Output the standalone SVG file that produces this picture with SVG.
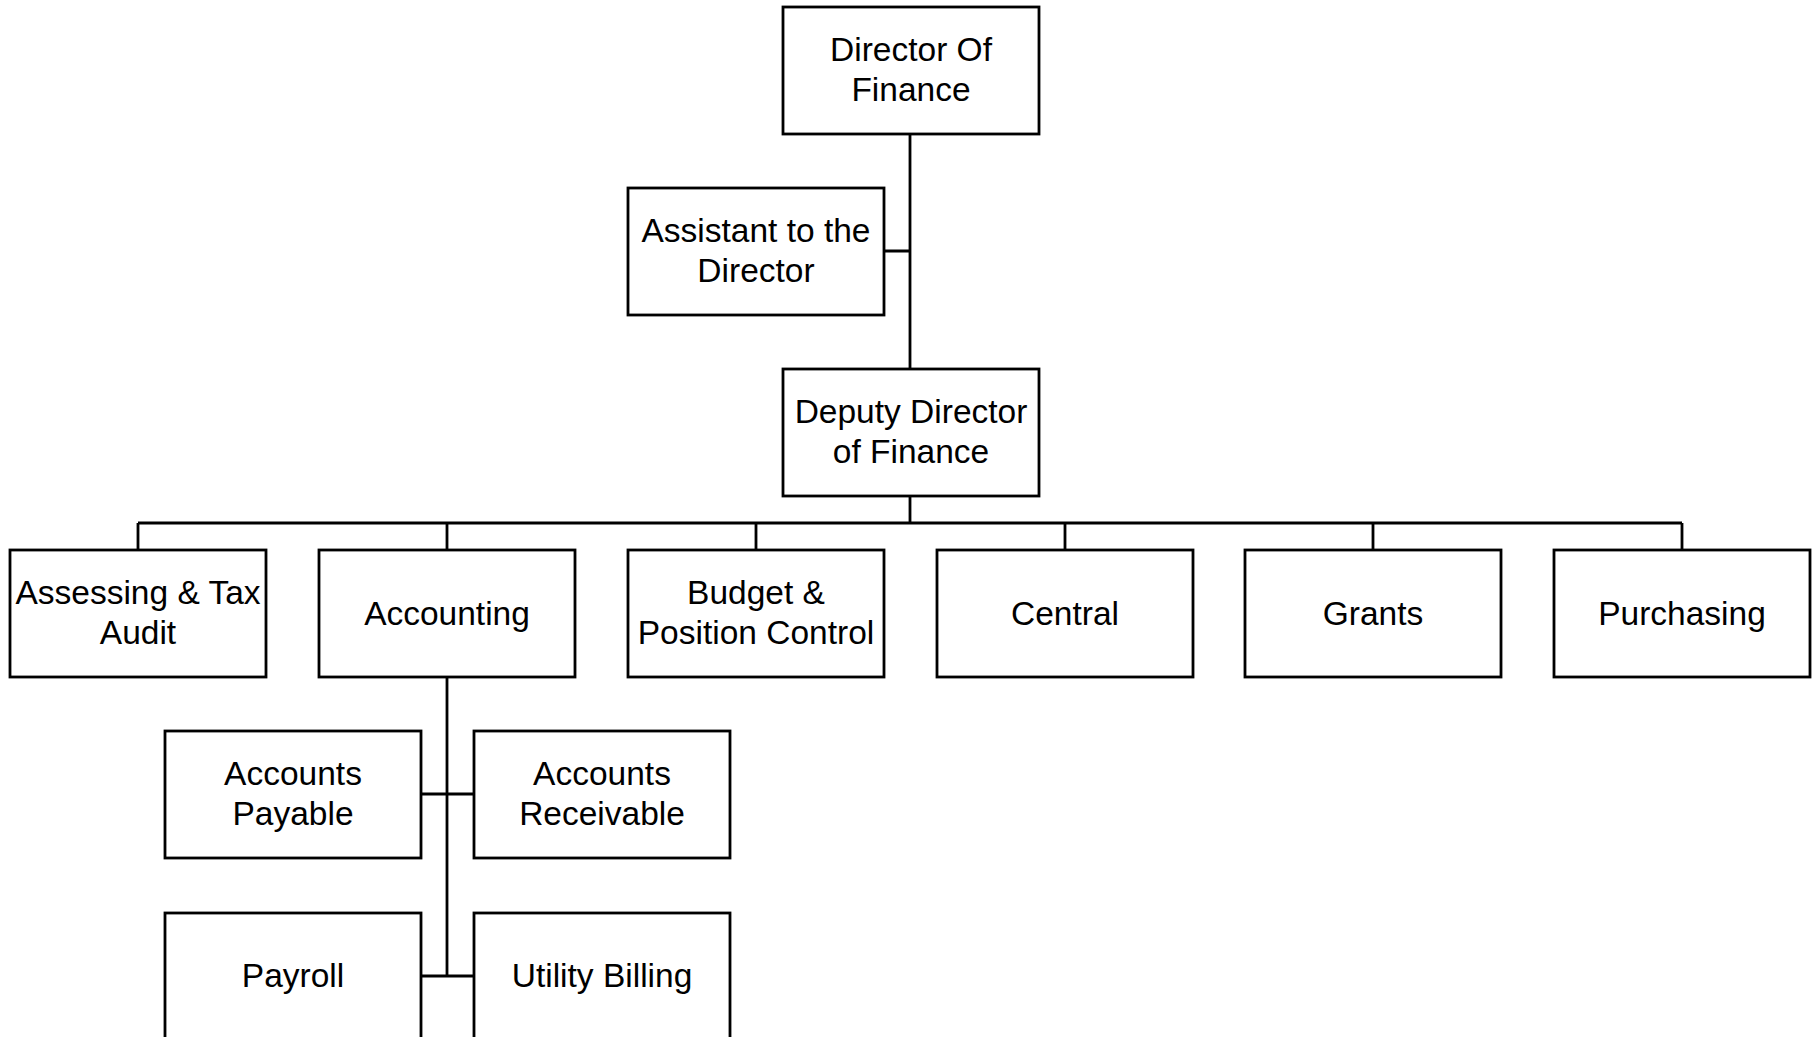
<svg xmlns="http://www.w3.org/2000/svg" width="1813" height="1037" viewBox="0 0 1813 1037">
<style>
.box{fill:#fff;stroke:#000;stroke-width:2.8}
.ln{fill:none;stroke:#000;stroke-width:2.8}
text{font-family:"Liberation Sans",Arial,sans-serif;font-size:33.5px;fill:#000;text-anchor:middle}
</style>
<rect width="1813" height="1037" fill="#fff"/>
<g id="connectors">
<path class="ln" d="M910 134V369M884 251H910M910 496V523M138 523H1682M138 523V550M447 523V550M756 523V550M1065 523V550M1373 523V550M1682 523V550M447 677V976M421 794H474M421 976H474"/>
</g>
<g id="director"><rect class="box" x="783" y="7" width="256" height="127"/><text x="911" y="61">Director Of</text><text x="911" y="101">Finance</text></g>
<g id="assistant"><rect class="box" x="628" y="188" width="256" height="127"/><text x="756" y="242">Assistant to the</text><text x="756" y="282">Director</text></g>
<g id="deputy"><rect class="box" x="783" y="369" width="256" height="127"/><text x="911" y="423">Deputy Director</text><text x="911" y="463">of Finance</text></g>
<g id="assessing"><rect class="box" x="10" y="550" width="256" height="127"/><text x="138" y="604">Assessing &amp; Tax</text><text x="138" y="644">Audit</text></g>
<g id="accounting"><rect class="box" x="319" y="550" width="256" height="127"/><text x="447" y="625">Accounting</text></g>
<g id="budget"><rect class="box" x="628" y="550" width="256" height="127"/><text x="756" y="604">Budget &amp;</text><text x="756" y="644">Position Control</text></g>
<g id="central"><rect class="box" x="937" y="550" width="256" height="127"/><text x="1065" y="625">Central</text></g>
<g id="grants"><rect class="box" x="1245" y="550" width="256" height="127"/><text x="1373" y="625">Grants</text></g>
<g id="purchasing"><rect class="box" x="1554" y="550" width="256" height="127"/><text x="1682" y="625">Purchasing</text></g>
<g id="payable"><rect class="box" x="165" y="731" width="256" height="127"/><text x="293" y="785">Accounts</text><text x="293" y="825">Payable</text></g>
<g id="receivable"><rect class="box" x="474" y="731" width="256" height="127"/><text x="602" y="785">Accounts</text><text x="602" y="825">Receivable</text></g>
<g id="payroll"><rect class="box" x="165" y="913" width="256" height="127"/><text x="293" y="987">Payroll</text></g>
<g id="utility"><rect class="box" x="474" y="913" width="256" height="127"/><text x="602" y="987">Utility Billing</text></g>
</svg>
